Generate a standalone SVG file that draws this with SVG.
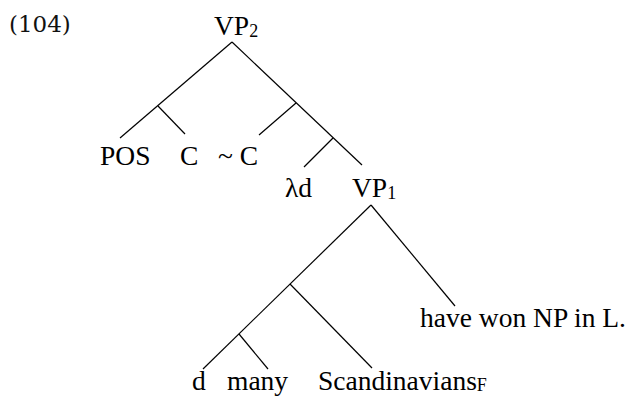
<svg xmlns="http://www.w3.org/2000/svg" width="630" height="397" viewBox="0 0 630 397">
<style>
.t{font-family:"Liberation Serif","Times New Roman",serif;font-size:27.5px;fill:#000}
.s{font-size:18px}
.n{font-family:"DejaVu Serif",serif;font-size:23px;fill:#111}
.e{stroke:#000;stroke-width:1.2;fill:none}
</style>
<rect width="630" height="397" fill="#fff"/>
<text class="n" x="9" y="32">(104)</text>
<g id="connectors">
<line class="e" x1="232" y1="42" x2="120" y2="138"/>
<line class="e" x1="158" y1="106" x2="185" y2="134"/>
<line class="e" x1="232" y1="42" x2="362" y2="165"/>
<line class="e" x1="296" y1="103" x2="259" y2="135"/>
<line class="e" x1="333" y1="138" x2="304" y2="167"/>
<line class="e" x1="371" y1="205" x2="455" y2="306"/>
<line class="e" x1="371" y1="205" x2="203" y2="369"/>
<line class="e" x1="290" y1="284" x2="372" y2="368"/>
<line class="e" x1="239" y1="334" x2="268" y2="369"/>
</g>
<g id="vp2"><text class="t" x="214" y="35">VP<tspan class="s" dy="2">2</tspan></text></g>
<g id="pos"><text class="t" x="100" y="165">POS</text></g>
<g id="c"><text class="t" x="180" y="165">C</text></g>
<g id="notc"><text class="t" x="218" y="165">~ C</text></g>
<g id="lambda"><text class="t" x="285" y="197">λd</text></g>
<g id="vp1"><text class="t" x="352" y="197">VP<tspan class="s" dy="2">1</tspan></text></g>
<g id="havewon"><text class="t" x="420" y="327">have won NP in L.</text></g>
<g id="d"><text class="t" x="192" y="390">d</text></g>
<g id="many"><text class="t" x="227" y="390">many</text></g>
<g id="scand"><text class="t" x="318" y="390">Scandinavians<tspan class="s" dy="1">F</tspan></text></g>
</svg>
